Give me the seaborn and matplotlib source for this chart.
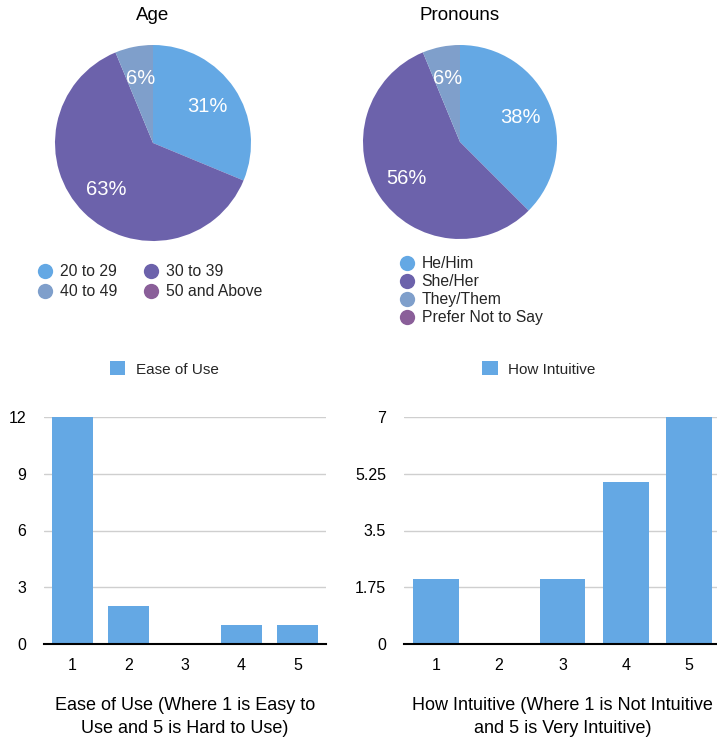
import matplotlib
matplotlib.use("Agg")
import matplotlib.pyplot as plt
import seaborn as sns
from matplotlib.lines import Line2D
from matplotlib.patches import Patch

# data
age_labels = ["20 to 29", "30 to 39", "40 to 49", "50 and Above"]
age_counts = [5, 10, 1, 0]
pronoun_labels = ["He/Him", "She/Her", "They/Them", "Prefer Not to Say"]
pronoun_counts = [6, 9, 1, 0]
scale_levels = ["1", "2", "3", "4", "5"]
ease_counts = [12, 2, 0, 1, 1]
intuitive_counts = [2, 0, 2, 5, 7]
ease_ticks = [0, 3, 6, 9, 12]
intuitive_ticks = [0, 1.75, 3.5, 5.25, 7]

pie_colors = ["#64A8E4", "#6C62AB", "#7F9FCB", "#8A5F99"]
bar_color = "#64A8E4"

sns.set_theme(style="white")
plt.rcParams['font.family'] = ['Liberation Sans', 'DejaVu Sans']

W, H = 717, 740
fig = plt.figure(figsize=(W / 100, H / 100), dpi=100)


def px_axes(left, top, right, bottom):
    return fig.add_axes([left / W, 1 - bottom / H, (right - left) / W, (bottom - top) / H])


def pct_label(p):
    if p <= 0:
        return ""
    return f"{int(p + 0.5)}%"


def draw_pie(cx, cy, r, counts, title):
    ax = px_axes(cx - r, cy - r, cx + r, cy + r)
    ax.pie(counts, colors=pie_colors, startangle=90, counterclock=False,
           autopct=pct_label, pctdistance=0.67, radius=1,
           wedgeprops=dict(linewidth=0),
           textprops=dict(color="white", fontsize=14.5))
    ax.set_xlim(-1, 1)
    ax.set_ylim(-1, 1)
    ax.axis("off")
    fig.text(cx / W, 1 - 15 / H, title, ha="center", va="center", fontsize=13.5, color="black")
    return ax


draw_pie(153, 143, 98, age_counts, "Age")
draw_pie(460, 142, 97, pronoun_counts, "Pronouns")


def circle_handles(labels):
    return [Line2D([], [], marker="o", linestyle="none", markersize=11,
                   markerfacecolor=c, markeredgewidth=0) for c in pie_colors[:len(labels)]]


h = circle_handles(age_labels)
order = [0, 2, 1, 3]
fig.legend([h[i] for i in order], [age_labels[i] for i in order], ncol=2,
           loc="upper left", bbox_to_anchor=(36 / W, 1 - 264 / H), frameon=False,
           borderpad=0, borderaxespad=0, handletextpad=0.3, columnspacing=1.6,
           labelspacing=0.35, fontsize=11.3, handlelength=1.2)

fig.legend(circle_handles(pronoun_labels), pronoun_labels, ncol=1,
           loc="upper left", bbox_to_anchor=(398 / W, 1 - 256 / H), frameon=False,
           borderpad=0, borderaxespad=0, handletextpad=0.3,
           labelspacing=0.2, fontsize=11.3, handlelength=1.2)


def draw_bars(left, right, counts, ticks, name, xlabel, legend_x):
    ax = px_axes(left, 417, right, 644)
    sns.barplot(x=scale_levels, y=counts, ax=ax, color=bar_color, saturation=1,
                width=0.72, linewidth=0)
    ax.set_ylim(0, ticks[-1])
    ax.set_xlim(-0.5, 4.5)
    ax.set_yticks(ticks)
    ax.set_yticklabels([f"{t:g}" for t in ticks])
    ax.grid(axis="y", color="#cfcfcf", linewidth=1)
    ax.set_axisbelow(True)
    for s in ["top", "right", "left"]:
        ax.spines[s].set_visible(False)
    ax.spines["bottom"].set_color("black")
    ax.spines["bottom"].set_linewidth(1.5)
    ax.spines["bottom"].set_zorder(5)
    ax.tick_params(axis="y", length=0, pad=13, labelsize=11.5, labelcolor="black")
    ax.tick_params(axis="x", length=0, pad=10, labelsize=11.5, labelcolor="black")
    ax.set_xlabel(xlabel, fontsize=13, color="black", labelpad=17, linespacing=1.5)
    ax.set_ylabel("")
    ax.legend([Patch(facecolor=bar_color, edgecolor="none")], [name],
              loc="center", bbox_to_anchor=(legend_x / W, 1 - 369 / H),
              bbox_transform=fig.transFigure, frameon=False, fontsize=11,
              handlelength=1.0, handleheight=1.0, handletextpad=0.7,
              borderpad=0, borderaxespad=0)
    return ax


draw_bars(44, 326, ease_counts, ease_ticks, "Ease of Use",
          "Ease of Use (Where 1 is Easy to\nUse and 5 is Hard to Use)", 164)
draw_bars(404, 721, intuitive_counts, intuitive_ticks, "How Intuitive",
          "How Intuitive (Where 1 is Not Intuitive\nand 5 is Very Intuitive)", 539)

fig.savefig("out.png", dpi=100)
